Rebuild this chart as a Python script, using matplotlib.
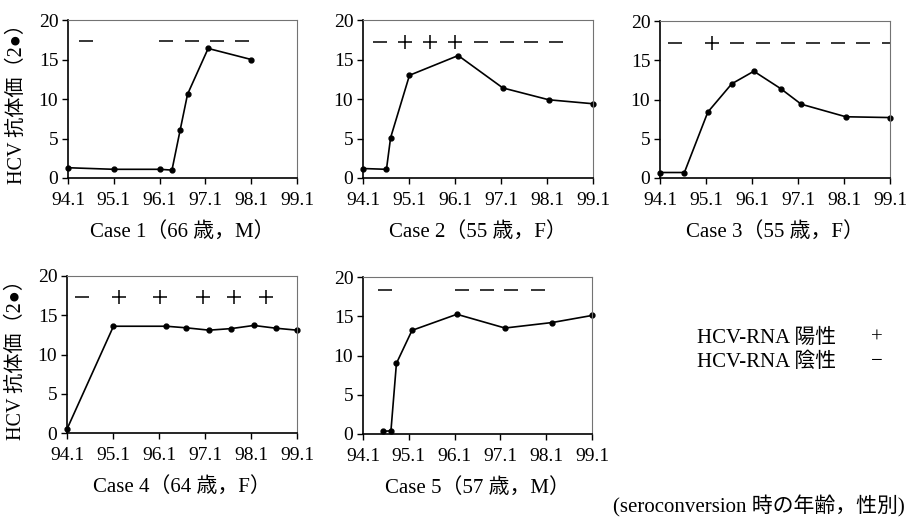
import matplotlib
matplotlib.use('Agg')
import matplotlib.pyplot as plt

plt.rcParams['font.family'] = ['Liberation Serif', 'Noto Sans CJK JP', 'DejaVu Sans']

# x = years since 94.1 (Jan 1994)
tick_pos = [0, 1, 2, 3, 4, 5]
tick_labels = ['94.1', '95.1', '96.1', '97.1', '98.1', '99.1']

case1_x = [0.0, 1.0, 2.0, 2.27, 2.45, 2.61, 3.06, 4.0]
case1_y = [1.3, 1.1, 1.1, 1.0, 6.1, 10.6, 16.4, 15.0]
case1_rna_x = [0.4, 2.13, 2.70, 3.25, 3.81]
case1_rna = ['-', '-', '-', '-', '-']

case2_x = [0.0, 0.51, 0.6, 1.01, 2.07, 3.04, 4.04, 5.0]
case2_y = [1.2, 1.1, 5.1, 13.0, 15.5, 11.4, 9.9, 9.4]
case2_rna_x = [0.36, 0.91, 1.46, 2.01, 2.57, 3.12, 3.66, 4.2]
case2_rna = ['-', '+', '+', '+', '-', '-', '-', '-']

case3_x = [0.0, 0.53, 1.04, 1.56, 2.04, 2.62, 3.07, 4.04, 5.0]
case3_y = [0.7, 0.7, 8.4, 12.0, 13.6, 11.4, 9.4, 7.8, 7.7]
case3_rna_x = [0.33, 1.12, 1.67, 2.23, 2.78, 3.33, 3.88, 4.42, 4.97]
case3_rna = ['-', '+', '-', '-', '-', '-', '-', '-', '-']

case4_x = [0.0, 1.01, 2.16, 2.59, 3.09, 3.57, 4.06, 4.54, 5.0]
case4_y = [0.5, 13.6, 13.6, 13.4, 13.1, 13.3, 13.7, 13.35, 13.1]
case4_rna_x = [0.32, 1.12, 2.03, 2.96, 3.62, 4.32]
case4_rna = ['-', '+', '+', '+', '+', '+']

case5_x = [0.44, 0.61, 0.73, 1.07, 2.05, 3.1, 4.13, 5.0]
case5_y = [0.35, 0.4, 9.0, 13.2, 15.25, 13.5, 14.2, 15.1]
case5_rna_x = [0.49, 2.16, 2.7, 3.24, 3.82]
case5_rna = ['-', '-', '-', '-', '-']

rna_level = [17.3, 17.2, 17.2, 17.3, 18.4]
titles = ['Case 1（66 歳，M）', 'Case 2（55 歳，F）', 'Case 3（55 歳，F）',
          'Case 4（64 歳，F）', 'Case 5（57 歳，M）']
ylabel = 'HCV 抗体価（2●）'

cases = [
    (case1_x, case1_y, case1_rna_x, case1_rna),
    (case2_x, case2_y, case2_rna_x, case2_rna),
    (case3_x, case3_y, case3_rna_x, case3_rna),
    (case4_x, case4_y, case4_rna_x, case4_rna),
    (case5_x, case5_y, case5_rna_x, case5_rna),
]

W, H = 908, 521
# axes boxes in pixels: left, right, top, bottom
boxes = [(68, 297, 20, 178), (363, 593, 20, 178), (660, 890, 21, 178),
         (67, 297, 276, 433), (363, 592, 277, 434)]

fig = plt.figure(figsize=(W / 100, H / 100), dpi=100)

for i, (xs, ys, rx, rs) in enumerate(cases):
    l, r, t, b = boxes[i]
    ax = fig.add_axes([l / W, (H - b) / H, (r - l) / W, (b - t) / H])
    ax.plot(xs, ys, color='black', lw=1.2, marker='o', ms=3.5, clip_on=False)
    for xx, s in zip(rx, rs):
        m = '+' if s == '+' else '_'
        ax.plot(xx, rna_level[i], marker=m, ms=10, mew=1.1, color='black', linestyle='none')
    ax.set_xlim(0, 5)
    ax.set_ylim(0, 20)
    ax.set_xticks(tick_pos)
    ax.set_xticklabels(tick_labels)
    ax.set_yticks([0, 5, 10, 15, 20])
    ax.tick_params(labelsize=14, length=4, width=1, pad=3)
    ax.tick_params(axis='x', pad=6)
    for side in ['left', 'bottom']:
        ax.spines[side].set_linewidth(1.2)
    for side in ['top', 'right']:
        ax.spines[side].set_color('0.45')
        ax.spines[side].set_linewidth(0.8)
    ax.set_xlabel(titles[i], fontsize=15, labelpad=9)
    if i in (0, 3):
        ax.set_ylabel(ylabel, fontsize=14.5)
        ax.yaxis.set_label_coords(-0.18, 0.5)

fig.text(697 / W, 1 - 338 / H, 'HCV-RNA 陽性', fontsize=15, va='center', ha='left')
fig.text(877 / W, 1 - 338 / H, '+', fontsize=15, va='center', ha='center')
fig.text(697 / W, 1 - 362 / H, 'HCV-RNA 陰性', fontsize=15, va='center', ha='left')
fig.text(877 / W, 1 - 362 / H, '−', fontsize=15, va='center', ha='center')
fig.text(905 / W, 1 - 506 / H, '(seroconversion 時の年齢，性別)', fontsize=15, va='center', ha='right')

fig.savefig('out.png', dpi=100, facecolor='white')
